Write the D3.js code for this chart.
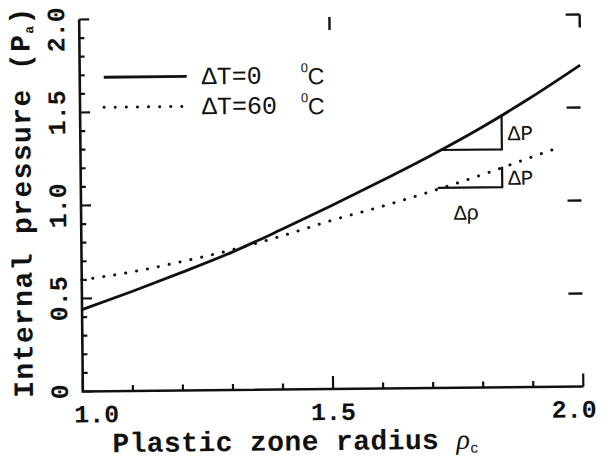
<!DOCTYPE html>
<html>
<head>
<meta charset="utf-8">
<script src="https://cdn.jsdelivr.net/npm/d3@7"></script>
<style>
  body { margin: 0; background: #fff; }
  text { fill: #111; }
</style>
</head>
<body>
<div id="chart"></div>
<script>
// data
var rho    = [1.0, 1.1, 1.2, 1.3, 1.4, 1.5, 1.6, 1.7, 1.8, 1.9, 2.0];
var pT0    = [0.44, 0.535, 0.635, 0.74, 0.86, 0.985, 1.115, 1.25, 1.395, 1.555, 1.728];
var rhoT60 = [1.0, 1.1, 1.2, 1.3, 1.4, 1.5, 1.6, 1.7, 1.8, 1.9, 1.96];
var pT60   = [0.60, 0.64, 0.693, 0.753, 0.825, 0.906, 0.978, 1.057, 1.142, 1.235, 1.29];
var xTickLabels = ["1.0", "1.5", "2.0"];
var yTickLabels = ["0", "0.5", "1.0", "1.5", "2.0"];
var legendLabels = ["\u0394T=0", "\u0394T=60"];
// slope triangles: [rho start, rho end, p base, p top]
var triT0  = [1.72, 1.842, 1.279, 1.464];
var triT60 = [1.713, 1.842, 1.076, 1.186];

var W = 602, H = 461;
var margin = {top: 17, right: 20.5, bottom: 72, left: 81};

var svg = d3.select("#chart").append("svg")
    .attr("width", W)
    .attr("height", H);

// the scanned figure is slightly tilted
var g = svg.append("g").attr("transform", "rotate(-0.57,331,203)");

var x = d3.scaleLinear().domain([1, 2]).range([margin.left, W - margin.right]);
var y = d3.scaleLinear().domain([0, 2]).range([H - margin.bottom, margin.top]);

var ink = "#111";
var mono = "'Liberation Mono', 'DejaVu Sans Mono', monospace";

// axes lines
g.append("path")
  .attr("d", "M" + x(1) + "," + y(2) + "V" + y(0) + "H" + x(2))
  .attr("fill", "none").attr("stroke", ink).attr("stroke-width", 2.6);

// left minor/major ticks (inward)
g.selectAll(".ytick").data(y.ticks(20)).enter().append("line")
  .attr("x1", x(1)).attr("x2", function(d) { return x(1) + (Math.round(d * 10) % 5 == 0 ? 10 : 5); })
  .attr("y1", function(d) { return y(d); }).attr("y2", function(d) { return y(d); })
  .attr("stroke", ink).attr("stroke-width", 2.2);

// bottom ticks (inward)
g.selectAll(".xtick").data(x.ticks(10)).enter().append("line")
  .attr("x1", function(d) { return x(d); }).attr("x2", function(d) { return x(d); })
  .attr("y1", y(0)).attr("y2", function(d) { return y(0) - (Math.round(d * 10) % 5 == 0 ? 13 : 6); })
  .attr("stroke", ink).attr("stroke-width", 2.2);

// top ticks (only the major ones survive in the figure)
g.selectAll(".ttick").data([1.5, 2.0]).enter().append("line")
  .attr("x1", function(d) { return x(d); }).attr("x2", function(d) { return x(d); })
  .attr("y1", y(2)).attr("y2", y(2) + 13)
  .attr("stroke", ink).attr("stroke-width", 2.4);

// right ticks
g.selectAll(".rtick").data([0.5, 1.0, 1.5, 2.0]).enter().append("line")
  .attr("x1", x(2) - 14).attr("x2", x(2))
  .attr("y1", function(d) { return y(d); }).attr("y2", function(d) { return y(d); })
  .attr("stroke", ink).attr("stroke-width", 2.4);

// tick labels (end labels are pulled inside like in the print)
g.selectAll(".xlab").data(xTickLabels).enter().append("text")
  .attr("x", function(d, i) { return x(+d) + [-9, 0, 13][i]; })
  .attr("y", y(0) + 31)
  .attr("text-anchor", function(d, i) { return ["start", "middle", "end"][i]; })
  .style("font-family", mono).style("font-size", "25px").style("font-weight", "bold")
  .text(function(d) { return d; });

g.selectAll(".ylab").data(yTickLabels).enter().append("text")
  .attr("transform", function(d, i) { return "translate(66," + (y(+d) + (i == 4 ? 10 : 0)) + ") rotate(-90)"; })
  .attr("text-anchor", "middle")
  .style("font-family", mono).style("font-size", "25px").style("font-weight", "bold")
  .text(function(d) { return d; });

// axis titles
var xt = g.append("text")
  .attr("x", 110).attr("y", y(0) + 61)
  .style("font-family", mono).style("font-size", "28px").style("font-weight", "bold")
  .style("letter-spacing", "0.4px");
xt.append("tspan").text("Plastic zone radius ");
xt.append("tspan").style("font-family", "'Liberation Serif', serif").style("font-style", "italic")
  .style("font-weight", "normal").text("\u03c1");
xt.append("tspan").attr("dy", 4).style("font-size", "15px").style("font-family", "'Liberation Sans', sans-serif")
  .style("font-weight", "normal").text("c");

var yt = g.append("text")
  .attr("transform", "translate(31," + 199 + ") rotate(-90)")
  .attr("text-anchor", "middle")
  .style("font-family", mono).style("font-size", "28px").style("font-weight", "bold")
  .style("letter-spacing", "1.4px");
yt.append("tspan").text("Internal pressure (P");
yt.append("tspan").attr("dy", 4).style("font-size", "13px").text("a");
yt.append("tspan").attr("dy", -4).text(")");

// curves
var line = d3.line().curve(d3.curveMonotoneX)
  .x(function(d) { return x(d[0]); })
  .y(function(d) { return y(d[1]); });

g.append("path")
  .datum(d3.zip(rho, pT0))
  .attr("d", line)
  .attr("fill", "none").attr("stroke", ink).attr("stroke-width", 2.8);

g.append("path")
  .datum(d3.zip(rhoT60, pT60))
  .attr("d", line)
  .attr("fill", "none").attr("stroke", ink).attr("stroke-width", 3)
  .attr("stroke-linecap", "round").attr("stroke-dasharray", "0.1,11");

// slope triangles
[triT0, triT60].forEach(function(t) {
  g.append("path")
    .attr("d", "M" + x(t[0]) + "," + y(t[2]) + "H" + x(t[1]) + "V" + y(t[3]))
    .attr("fill", "none").attr("stroke", ink).attr("stroke-width", 2.2);
  g.append("text")
    .attr("x", x(t[1]) + 6).attr("y", y((t[2] + t[3]) / 2) + 8)
    .style("font-family", mono).style("font-size", "21px")
    .text("\u0394P");
});
g.append("text")
  .attr("x", x(triT60[0]) + 16).attr("y", y(triT60[2]) + 32)
  .style("font-family", mono).style("font-size", "21px")
  .text("\u0394\u03c1");

// legend
var leg = g.selectAll(".leg").data(legendLabels).enter().append("g")
  .attr("transform", function(d, i) { return "translate(0," + (75 + i * 30) + ")"; });
leg.append("line")
  .attr("x1", 105).attr("x2", 188).attr("y1", 0).attr("y2", 0)
  .attr("stroke", ink)
  .attr("stroke-width", function(d, i) { return i ? 3 : 2.8; })
  .attr("stroke-linecap", function(d, i) { return i ? "round" : "butt"; })
  .attr("stroke-dasharray", function(d, i) { return i ? "0.1,11" : null; });
leg.append("text")
  .attr("x", 203).attr("y", 8)
  .style("font-family", mono).style("font-size", "25px")
  .text(function(d) { return d; });
leg.append("text")
  .attr("x", 302).attr("y", -3)
  .style("font-family", "'Liberation Sans', sans-serif").style("font-size", "13px")
  .text("0");
leg.append("text")
  .attr("x", 309).attr("y", 9)
  .style("font-family", "'Liberation Sans', sans-serif").style("font-size", "23px")
  .text("C");
</script>
</body>
</html>
